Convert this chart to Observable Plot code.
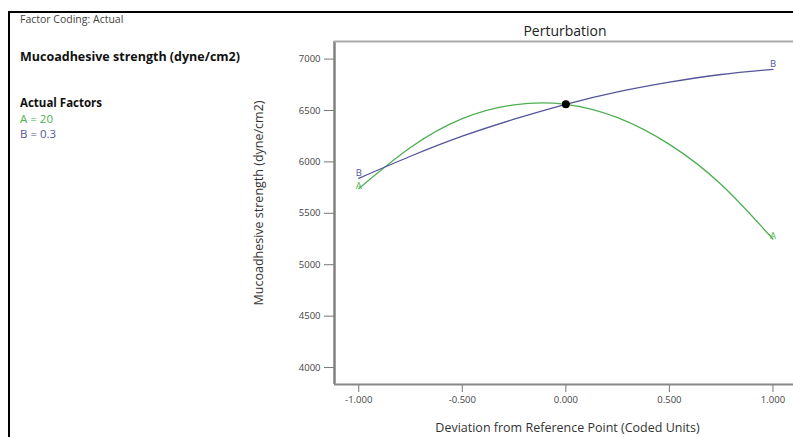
<!DOCTYPE html>
<html>
<head>
<meta charset="utf-8">
<script src="https://cdn.jsdelivr.net/npm/d3@7"></script>
<script src="https://cdn.jsdelivr.net/npm/@observablehq/plot@0.6"></script>
<style>
  html, body { margin: 0; padding: 0; background: #fff; overflow: hidden; }
  #wrap { position: relative; width: 793px; height: 437px; overflow: hidden; font-family: "Open Sans", "Noto Sans", sans-serif; }
  #frameTop { position: absolute; left: 8px; top: 11px; width: 790px; height: 2px; background: #000; }
  #frameLeft { position: absolute; left: 8px; top: 11px; width: 2px; height: 430px; background: #000; }
  .note { position: absolute; left: 20px; white-space: nowrap; line-height: 1; }
  #title { position: absolute; left: 465px; width: 200px; text-align: center; top: 21px; font-size: 14px; color: #222; }
  #chart { position: absolute; left: 0; top: 0; width: 800px; }
  #chart svg { max-width: none !important; width: 800px !important; height: 437px !important; }
</style>
</head>
<body>
<div id="wrap">
  <div id="chart"></div>
  <div id="frameTop"></div>
  <div id="frameLeft"></div>
  <div class="note" style="top:14px;font-size:10.5px;color:#444;">Factor Coding: Actual</div>
  <div class="note" style="top:51px;font-size:12.5px;font-weight:bold;color:#111;">Mucoadhesive strength (dyne/cm2)</div>
  <div class="note" style="top:97px;font-size:11.5px;font-weight:bold;color:#111;">Actual Factors</div>
  <div class="note" style="top:113px;font-size:11.5px;color:#4caf50;">A = 20</div>
  <div class="note" style="top:128px;font-size:11.5px;color:#55559a;">B = 0.3</div>
  <div id="title">Perturbation</div>
</div>
<script>
// Deviation from reference point (coded units)
const deviation = [-1, -0.75, -0.5, -0.25, 0, 0.25, 0.5, 0.75, 1];
// Factor A response
const factorA = [5740, 6140, 6420, 6555, 6560, 6430, 6170, 5780, 5250];
// Factor B response
const factorB = [5840, 6055, 6250, 6415, 6560, 6680, 6775, 6850, 6900];
const referencePoint = [{x: 0, y: 6560}];
const yTicks = [4000, 4500, 5000, 5500, 6000, 6500, 7000];
const xTicks = [-1, -0.5, 0, 0.5, 1];
const colorA = "#4caf50";
const colorB = "#55559a";

const dataA = deviation.map((d, i) => ({x: d, y: factorA[i]}));
const dataB = deviation.map((d, i) => ({x: d, y: factorB[i]}));
const endLabelsA = [
  {x: -1, y: factorA[0], t: "A"},
  {x: 1, y: factorA[factorA.length - 1], t: "A"}
];
const endLabelsB = [
  {x: -1, y: factorB[0], t: "B"},
  {x: 1, y: factorB[factorB.length - 1], t: "B"}
];

const xMin = -1.117, xMax = 1.133, yMin = 3835, yMax = 7171;

const plot = Plot.plot({
  width: 800,
  height: 437,
  marginLeft: 334,
  marginRight: 0,
  marginTop: 41,
  marginBottom: 53,
  style: {fontFamily: "'Open Sans', 'Noto Sans', sans-serif", background: "transparent", maxWidth: "none"},
  x: {domain: [xMin, xMax]},
  y: {domain: [yMin, yMax]},
  marks: [
    Plot.axisY({
      ticks: yTicks, tickSize: 10, tickPadding: 4, tickFormat: d => String(d),
      fontSize: 9.5, stroke: "#777", color: "#444",
      label: "Mucoadhesive strength (dyne/cm2)", labelAnchor: "center", labelArrow: "none", labelOffset: 80
    }),
    Plot.axisX({
      ticks: xTicks, tickSize: 8, tickPadding: 4, tickFormat: d => d.toFixed(3),
      fontSize: 9.5, stroke: "#777", color: "#444",
      label: "Deviation from Reference Point (Coded Units)", labelAnchor: "center", labelArrow: "none", labelOffset: 47
    }),
    Plot.ruleX([xMin], {stroke: "#808080", strokeWidth: 2.5}),
    Plot.ruleY([yMin], {stroke: "#888", strokeWidth: 2}),
    Plot.ruleY([yMax], {stroke: "#aaa", strokeWidth: 2}),
    Plot.line(dataA, {x: "x", y: "y", stroke: colorA, strokeWidth: 1.3, curve: "natural"}),
    Plot.line(dataB, {x: "x", y: "y", stroke: colorB, strokeWidth: 1.3, curve: "natural"}),
    Plot.text(endLabelsA, {x: "x", y: "y", text: "t", fill: colorA, dy: -3, fontSize: 9.5}),
    Plot.text(endLabelsB, {x: "x", y: "y", text: "t", fill: colorB, dy: -5, fontSize: 9.5}),
    Plot.dot(referencePoint, {x: "x", y: "y", r: 4, fill: "#000"})
  ]
});
document.getElementById("chart").appendChild(plot);
d3.select(plot).selectAll("g[aria-label='y-axis label'] text, g[aria-label='x-axis label'] text")
  .style("font-size", "12.5px").style("fill", "#333");
d3.select(plot).selectAll("g[aria-label='y-axis label'] text").attr("dx", 10);
</script>
</body>
</html>
